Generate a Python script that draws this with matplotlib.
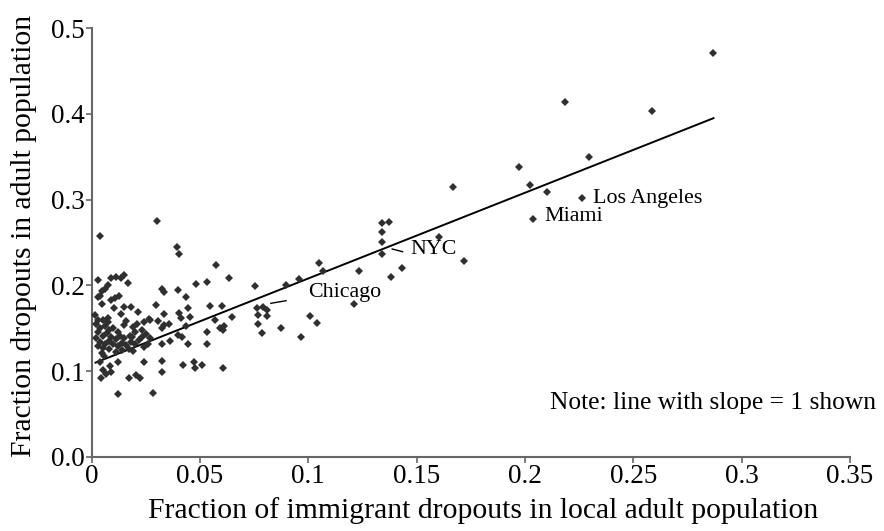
import matplotlib
matplotlib.use("Agg")
import matplotlib.pyplot as plt
import numpy as np

plt.rcParams["font.family"] = ["Liberation Serif", "DejaVu Serif"]

_TICK_FONTSIZE = 19.5
_LABEL_FONTSIZE = 21.3
_NOTE_FONTSIZE = 18.4
_CITY_FONTSIZE = 15.8
_MARK_COLOR = "#2f2f2f"
_AXIS_COLOR = "#666666"

# metro areas: share of immigrant dropouts vs share of all dropouts
dense_x = [
    0.0037, 0.0300, 0.0029, 0.0090, 0.0110, 0.0135, 0.0150, 0.0168, 0.0075, 0.0060,
    0.0048, 0.0040, 0.0029, 0.0090, 0.0108, 0.0125, 0.0048, 0.0103, 0.0149, 0.0183,
    0.0014, 0.0135, 0.0214, 0.0269, 0.0295, 0.0053, 0.0075, 0.0323, 0.0334, 0.0334,
    0.0306, 0.0334, 0.0326,
    0.002, 0.004, 0.006, 0.008, 0.003, 0.005, 0.007, 0.010, 0.012, 0.009,
    0.011, 0.013, 0.015, 0.002, 0.004, 0.006, 0.008, 0.010, 0.012, 0.014,
    0.016, 0.018, 0.020, 0.022, 0.017, 0.019, 0.014, 0.011, 0.008, 0.005,
    0.003, 0.024, 0.026, 0.0177, 0.020, 0.023, 0.025, 0.027, 0.019, 0.021,
    0.024, 0.0147, 0.016, 0.0075, 0.003, 0.0187, 0.0234, 0.0326, 0.0264,
    0.0048, 0.0057, 0.0038, 0.0121, 0.0241, 0.0323, 0.0326, 0.0052, 0.0066, 0.0090,
    0.0084, 0.0043, 0.0171, 0.0206, 0.0222, 0.0121, 0.0283,
]
dense_y = [
    0.257, 0.275, 0.206, 0.208, 0.210, 0.209, 0.212, 0.203, 0.200, 0.196,
    0.193, 0.188, 0.186, 0.183, 0.185, 0.188, 0.178, 0.173, 0.175, 0.175,
    0.165, 0.167, 0.169, 0.160, 0.177, 0.160, 0.162, 0.196, 0.192, 0.166,
    0.158, 0.154, 0.150,
    0.155, 0.150, 0.153, 0.148, 0.145, 0.141, 0.144, 0.150, 0.146, 0.140,
    0.137, 0.141, 0.138, 0.138, 0.134, 0.131, 0.135, 0.131, 0.129, 0.133,
    0.130, 0.134, 0.131, 0.136, 0.126, 0.123, 0.124, 0.122, 0.126, 0.127,
    0.129, 0.128, 0.132, 0.141, 0.145, 0.148, 0.143, 0.139, 0.151, 0.155,
    0.157, 0.154, 0.158, 0.157, 0.160, 0.140, 0.140, 0.132, 0.161,
    0.121, 0.117, 0.111, 0.111, 0.110, 0.112, 0.099, 0.101, 0.097, 0.099,
    0.106, 0.092, 0.092, 0.095, 0.092, 0.073, 0.074,
]

mid_x = [
    0.0392, 0.0403, 0.0572, 0.0635, 0.0531, 0.0481, 0.0400, 0.0434, 0.0546, 0.0603,
    0.0443, 0.0403, 0.0454, 0.0411, 0.0646, 0.0569, 0.0357, 0.0434, 0.0612, 0.0607,
    0.0592, 0.0531, 0.0400, 0.0415, 0.0361, 0.0446, 0.0531, 0.0423, 0.0473, 0.0479,
    0.0508, 0.0607,
    0.0754, 0.0763, 0.0791, 0.0809, 0.0768, 0.0809, 0.0769, 0.0784, 0.0872, 0.0965,
    0.1008, 0.1041, 0.0897, 0.0958, 0.1050, 0.1069, 0.1211, 0.1234,
]
mid_y = [
    0.245, 0.237, 0.224, 0.208, 0.204, 0.2015, 0.195, 0.186, 0.176, 0.176,
    0.173, 0.168, 0.163, 0.1615, 0.163, 0.160, 0.155, 0.152, 0.1525, 0.148,
    0.150, 0.145, 0.142, 0.140, 0.135, 0.132, 0.1315, 0.107, 0.110, 0.104,
    0.107, 0.104,
    0.1995, 0.1735, 0.1747, 0.1712, 0.1653, 0.1642, 0.1548, 0.1447, 0.1498, 0.1400,
    0.1645, 0.1557, 0.2004, 0.2070, 0.2257, 0.2170, 0.1782, 0.2167,
]

high_x = [
    0.1338, 0.1374, 0.1341, 0.1341, 0.1341, 0.1604, 0.1717, 0.1431, 0.1381,
    0.1666, 0.1973, 0.2024, 0.2101, 0.2184, 0.2294, 0.2585, 0.2870, 0.2263, 0.2038,
]
high_y = [
    0.2723, 0.2739, 0.2618, 0.2502, 0.2365, 0.2567, 0.2287, 0.2202, 0.2097,
    0.3144, 0.3384, 0.3167, 0.3089, 0.4142, 0.3497, 0.4030, 0.4714, 0.3022, 0.2770,
]

# reference line with slope one
line_x = [0.0018, 0.2870]
line_slope = 1.0
line_intercept = 0.108

# city name, text position, leader segment (x0, y0, x1, y1) or None
city_labels = [
    ("Los Angeles", 0.2314, 0.3015, None),
    ("Miami", 0.2088, 0.2800, None),
    ("NYC", 0.1469, 0.2412, (0.1387, 0.2424, 0.1435, 0.2392)),
    ("Chicago", 0.1000, 0.1914, (0.0827, 0.1790, 0.0897, 0.1820)),
]

x_ticks = [0, 0.05, 0.1, 0.15, 0.2, 0.25, 0.3, 0.35]
x_tick_labels = ["0", "0.05", "0.1", "0.15", "0.2", "0.25", "0.3", "0.35"]
y_ticks = [0.0, 0.1, 0.2, 0.3, 0.4, 0.5]
y_tick_labels = ["0.0", "0.1", "0.2", "0.3", "0.4", "0.5"]

fig = plt.figure(figsize=(8.84, 5.31), dpi=100)
ax = fig.add_axes([0.1037, 0.1399, 0.8578, 0.8070])

all_x = np.array(dense_x + mid_x + high_x)
all_y = np.array(dense_y + mid_y + high_y)
ax.plot(all_x, all_y, linestyle="none", marker="D", markersize=4.2,
        color=_MARK_COLOR, markeredgewidth=0, clip_on=False, zorder=3)

lx = np.array(line_x)
ax.plot(lx, line_slope * lx + line_intercept, color="black", lw=1.4, zorder=2)

for name, tx, ty, leader in city_labels:
    ax.text(tx, ty, name, fontsize=_CITY_FONTSIZE, ha="left", va="center")
    if leader is not None:
        x0, y0, x1, y1 = leader
        ax.plot([x0, x1], [y0, y1], color="black", lw=1.0)

ax.text(0.362, 0.0627, "Note: line with slope = 1 shown", fontsize=_NOTE_FONTSIZE,
        ha="right", va="center", clip_on=False)

ax.set_xlim(0, 0.35)
ax.set_ylim(0, 0.5)
ax.set_xticks(x_ticks)
ax.set_xticklabels(x_tick_labels)
ax.set_yticks(y_ticks)
ax.set_yticklabels(y_tick_labels)

for side in ("top", "right"):
    ax.spines[side].set_visible(False)
for side in ("left", "bottom"):
    ax.spines[side].set_color(_AXIS_COLOR)
    ax.spines[side].set_linewidth(1.5)

ax.tick_params(axis="both", labelsize=_TICK_FONTSIZE, color=_AXIS_COLOR,
               length=4, width=1.2, pad=1)
ax.set_xlabel("Fraction of immigrant dropouts in local adult population",
              fontsize=_LABEL_FONTSIZE)
ax.set_ylabel("Fraction dropouts in adult population",
              fontsize=_LABEL_FONTSIZE)
ax.xaxis.set_label_coords(0.516, -0.094)
ax.yaxis.set_label_coords(-0.072, 0.515)

fig.savefig("out.png", dpi=100)
